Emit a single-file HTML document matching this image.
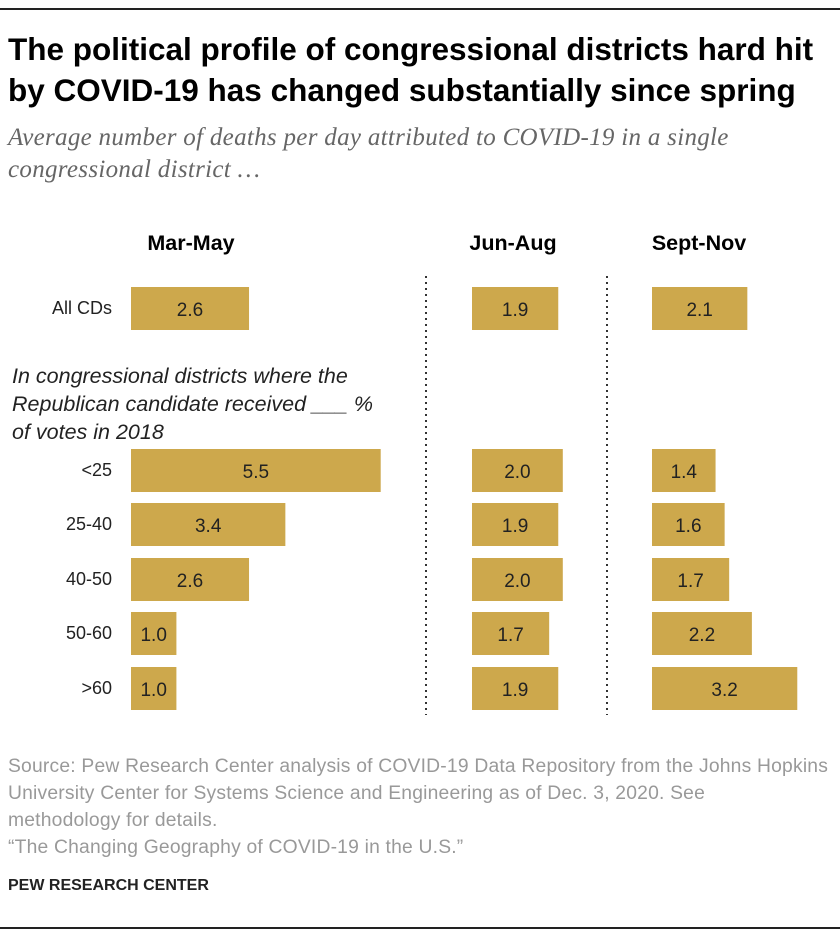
<!DOCTYPE html>
<html><head><meta charset="utf-8"><style>
body{margin:0;width:840px;height:938px;background:#fff;font-family:"Liberation Sans",sans-serif;position:relative;overflow:hidden}
.abs{position:absolute}
.title{left:8px;top:29px;font-size:31.5px;font-weight:bold;line-height:41px;color:#000;white-space:nowrap}
.sub{left:8px;top:122px;font-family:"Liberation Serif",serif;font-style:italic;font-size:25px;line-height:32px;color:#666;letter-spacing:0.3px;white-space:nowrap}
.src{left:8px;top:753px;font-size:19.3px;line-height:27px;color:#999;letter-spacing:0.2px;white-space:nowrap}
</style></head><body>
<div class="abs" style="left:0;top:8px;width:840px;height:2px;background:#222"></div>
<div class="abs title">The political profile of congressional districts hard hit<br>by COVID-19 has changed substantially since spring</div>
<div class="abs sub">Average number of deaths per day attributed to COVID-19 in a single<br>congressional district …</div>
<svg class="abs" style="left:0;top:0" width="840" height="938" id="chart"></svg>
<div class="abs src">Source: Pew Research Center analysis of COVID-19 Data Repository from the Johns Hopkins<br>University Center for Systems Science and Engineering as of Dec. 3, 2020. See<br>methodology for details.<br>“The Changing Geography of COVID-19 in the U.S.”</div>
<div class="abs" style="left:8px;top:877px;font-size:16px;font-weight:bold;color:#222">PEW RESEARCH CENTER</div>
<div class="abs" style="left:0;top:927px;width:840px;height:2px;background:#222"></div>
<script>
const categories=["All CDs","<25","25-40","40-50","50-60",">60"];
const periods=["Mar-May","Jun-Aug","Sept-Nov"];
const marMay=[2.6,5.5,3.4,2.6,1.0,1.0];
const junAug=[1.9,2.0,1.9,2.0,1.7,1.9];
const septNov=[2.1,1.4,1.6,1.7,2.2,3.2];
const series=[marMay,junAug,septNov];
const NS="http://www.w3.org/2000/svg";
const svg=document.getElementById('chart');
const colX=[131,472,652], headX=[191,513,699], scale=45.4;
const rowY=[287,449,503,558,612,667], barH=43;
function x(v,c){return colX[c]+v*scale;}
function mk(t,a,txt){const e=document.createElementNS(NS,t);for(const k in a)e.setAttribute(k,a[k]);if(txt!==undefined)e.textContent=txt;svg.appendChild(e);return e;}
periods.forEach((p,c)=>{
  const e=mk('text',{x:headX[c],y:250,'text-anchor':'middle','font-size':21.5,'font-weight':'bold',fill:'#000'},p);
  
  
});
[426,607].forEach(lx=>{
  const l=mk('line',{x1:lx,x2:lx,y1:276,y2:715,stroke:'#333','stroke-width':2,'stroke-dasharray':'2,4'});
  
  
});
categories.forEach((cat,i)=>{
  const lb=mk('text',{x:112,y:rowY[i]+27,'text-anchor':'end','font-size':18,fill:'#222'},cat);
  
  
  series.forEach((s,c)=>{
    const w=x(s[i],c)-colX[c];
    const r=mk('rect',{x:colX[c],y:rowY[i],width:w,height:barH,fill:'#CDA84C'});
    
    
    const t=mk('text',{x:colX[c]+w/2,y:rowY[i]+29,'text-anchor':'middle','font-size':19,fill:'#222'},s[i].toFixed(1));
    
    
  });
});
const note=["In congressional districts where the","Republican candidate received ___ %","of votes in 2018"];
note.forEach((n,i)=>{
  const t=mk('text',{x:12,y:383+i*28,'font-size':21.5,'font-style':'italic',fill:'#222'},n);
  
  
});
</script>
</body></html>
